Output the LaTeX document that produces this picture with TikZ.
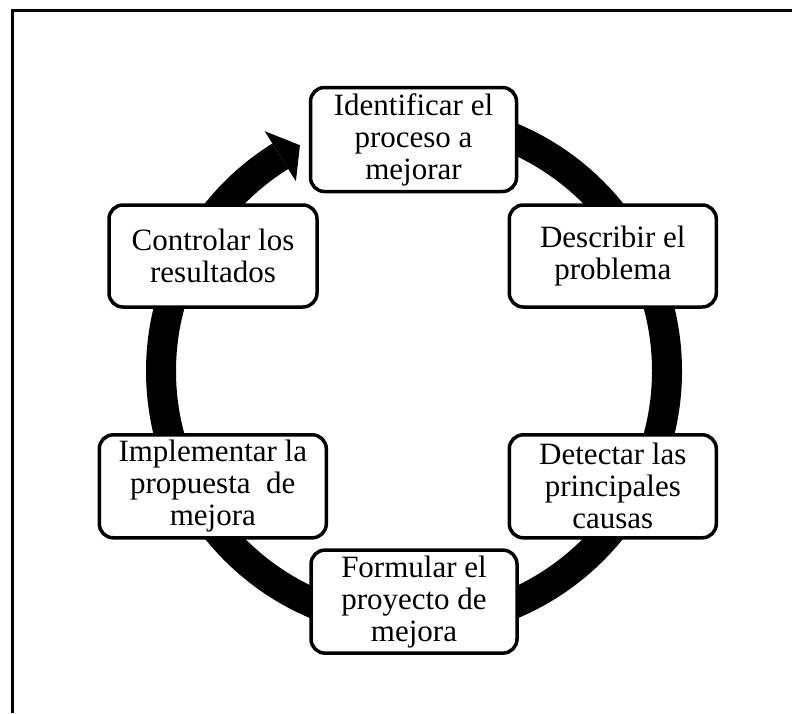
\documentclass[tikz,border=0pt]{standalone}
\usepackage{fontspec}
\setmainfont{Liberation Serif}
\begin{document}
\begin{tikzpicture}[x=1pt,y=-1pt,
  stepbox/.style={draw=black, line width=3.5pt, rounded corners=14pt, fill=white,
    align=center, inner sep=0pt, font=\fontsize{31}{32}\selectfont},
  ring/.style={line width=30pt, draw=black},
  frame/.style={line width=3pt, draw=black}]
\useasboundingbox (0,0) rectangle (792,713);
\draw[frame] (792,10.8) -- (12.5,10.8) -- (12.5,713);
\coordinate (c) at (414,371);
% circular arrow
\draw[ring] ([shift={(-90:253)}]c) arc[start angle=-90, end angle=238.1, radius=253];
\fill[black] ([shift={(238.1:282.5)}]c) -- ([shift={(243.2:253)}]c) -- ([shift={(238.1:223.5)}]c) -- cycle;
% boxes
\node[stepbox, minimum width=206pt, minimum height=104pt] (ident) at (413.5,139.5) {Identificar el\\proceso a\\mejorar};
\node[stepbox, minimum width=207pt, minimum height=102pt] (desc) at (612.8,256) {Describir el\\problema};
\node[stepbox, minimum width=207pt, minimum height=103pt] (detec) at (612.8,486.3) {Detectar las\\principales\\causas};
\node[stepbox, minimum width=206pt, minimum height=103pt] (form) at (414,601.6) {Formular el\\proyecto de\\mejora};
\node[stepbox, minimum width=227pt, minimum height=103pt] (impl) at (212.8,486.3) {Implementar la\\propuesta~ de\\mejora};
\node[stepbox, minimum width=208pt, minimum height=102pt] (ctrl) at (213,256) {Controlar los\\resultados};
\end{tikzpicture}
\end{document}
